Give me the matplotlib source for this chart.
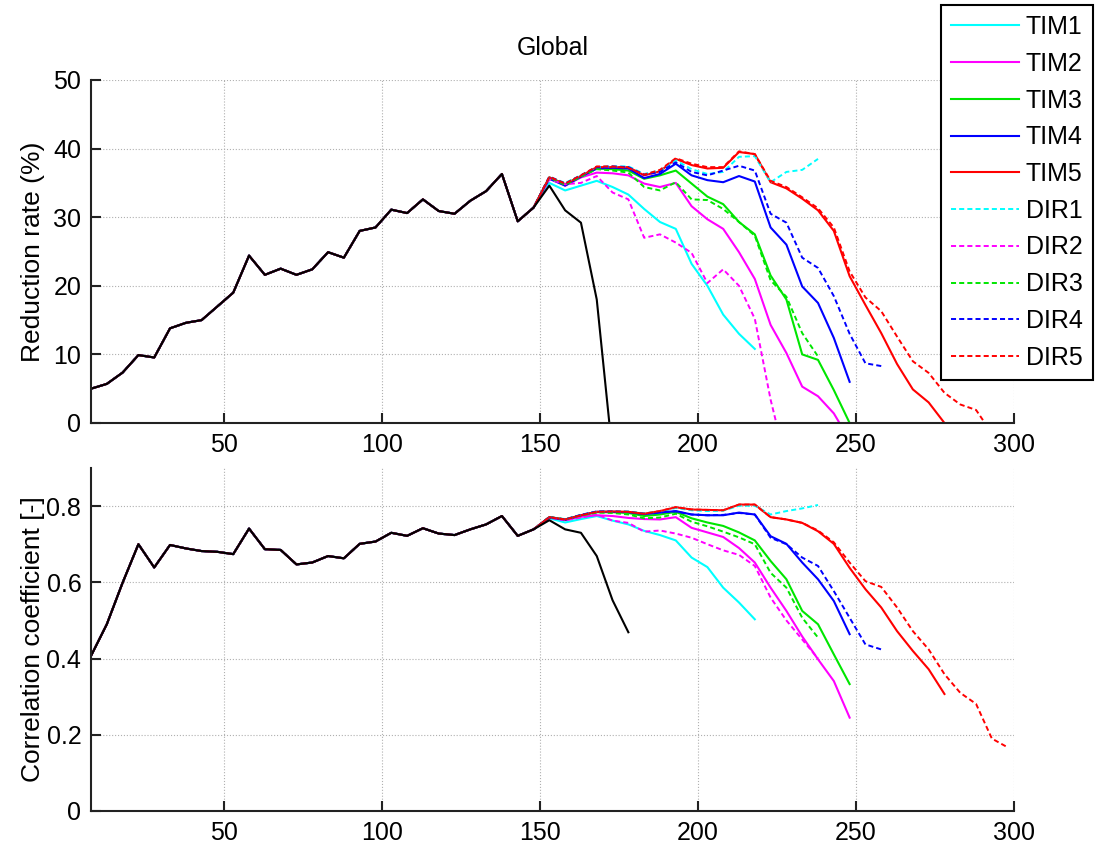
import numpy as np
import matplotlib
matplotlib.use("Agg")
import matplotlib.pyplot as plt

plt.rcParams['font.family'] = ['Liberation Sans', 'DejaVu Sans']

# sample positions (x axis)
x = np.arange(8, 300, 5)

# shared part of all curves (first 29 samples)
red_common = [5.0, 5.7, 7.35, 9.9, 9.55, 13.8, 14.6, 15.0, 17.0, 19.0, 24.4, 21.6, 22.5,
              21.6, 22.4, 24.9, 24.1, 28.0, 28.5, 31.1, 30.6, 32.6, 30.9, 30.5, 32.4,
              33.8, 36.3, 29.4, 31.4]
corr_common = [0.407, 0.490, 0.599, 0.700, 0.639, 0.698, 0.689, 0.682, 0.680, 0.674, 0.741,
               0.687, 0.685, 0.647, 0.652, 0.669, 0.663, 0.701, 0.707, 0.730, 0.722, 0.742,
               0.728, 0.724, 0.739, 0.752, 0.774, 0.722, 0.739]

# reduction rate (%), tails after the shared part
red_black = [34.6, 31.0, 29.2, 18.0, -4.6]
red_tim1 = [35.0, 33.9, 34.6, 35.3, 34.4, 33.3, 31.2, 29.3, 28.3, 23.2, 20.0, 15.8, 13.0, 10.8]
red_tim2 = [35.8, 34.6, 35.8, 36.5, 36.4, 36.1, 34.9, 34.4, 35.0, 31.6, 29.7, 28.3, 24.9, 21.0,
            14.3, 10.2, 5.3, 3.9, 1.4, -2.5]
red_tim3 = [35.8, 34.8, 36.0, 37.1, 37.0, 36.8, 35.6, 36.1, 36.8, 34.9, 33.0, 31.9, 29.3, 27.5,
            21.5, 18.0, 10.0, 9.2, 4.8, 0.0]
red_tim4 = [35.6, 34.6, 35.9, 37.1, 37.2, 37.1, 35.7, 36.3, 37.8, 36.1, 35.4, 35.1, 36.0, 35.2,
            28.5, 26.0, 19.9, 17.5, 12.4, 6.0]
red_tim5 = [35.8, 34.8, 36.0, 37.3, 37.3, 37.3, 36.1, 36.7, 38.5, 37.6, 37.1, 37.2, 39.5, 39.2,
            35.1, 34.2, 32.7, 31.0, 28.0, 21.4, 17.2, 13.1, 8.6, 4.9, 3.0, 0.0]
red_dir1 = [35.9, 35.0, 36.1, 37.3, 37.4, 37.4, 36.3, 36.8, 38.3, 37.0, 36.3, 36.6, 38.8, 38.9,
            35.1, 36.6, 36.9, 38.5]
red_dir2 = [35.5, 34.8, 35.0, 36.0, 33.6, 32.6, 27.0, 27.5, 26.3, 24.8, 20.4, 22.4, 20.0, 15.2,
            3.4, -6.0]
red_dir3 = [35.8, 34.7, 35.9, 37.0, 36.8, 36.5, 34.4, 33.9, 35.1, 32.6, 32.5, 31.2, 29.3, 27.3,
            20.8, 18.4, 13.1, 9.7]
red_dir4 = [35.9, 34.9, 36.1, 37.3, 37.4, 37.3, 36.2, 36.6, 38.0, 36.6, 36.1, 36.8, 37.5, 36.8,
            30.5, 29.2, 24.1, 22.6, 18.5, 13.0, 8.7, 8.3]
red_dir5 = [35.9, 34.9, 36.1, 37.4, 37.4, 37.2, 36.2, 36.9, 38.6, 37.8, 37.3, 37.3, 39.6, 39.2,
            35.3, 34.4, 32.9, 31.3, 28.5, 22.1, 18.3, 16.3, 12.6, 9.0, 7.3, 4.4, 2.7, 1.9, -1.5]

# correlation coefficient, tails after the shared part
corr_black = [0.763, 0.739, 0.730, 0.669, 0.553, 0.469]
corr_tim1 = [0.768, 0.757, 0.766, 0.774, 0.762, 0.752, 0.735, 0.724, 0.710, 0.665, 0.640, 0.586,
             0.547, 0.503]
corr_tim2 = [0.771, 0.763, 0.772, 0.776, 0.774, 0.769, 0.766, 0.765, 0.771, 0.743, 0.731, 0.719,
             0.690, 0.652, 0.586, 0.525, 0.458, 0.398, 0.341, 0.245]
corr_tim3 = [0.771, 0.765, 0.776, 0.784, 0.784, 0.782, 0.774, 0.778, 0.785, 0.768, 0.757, 0.748,
             0.731, 0.710, 0.656, 0.608, 0.525, 0.490, 0.411, 0.333]
corr_tim4 = [0.770, 0.764, 0.776, 0.785, 0.785, 0.784, 0.779, 0.783, 0.787, 0.778, 0.776, 0.776,
             0.783, 0.778, 0.721, 0.701, 0.652, 0.608, 0.551, 0.464]
corr_tim5 = [0.771, 0.765, 0.776, 0.785, 0.786, 0.785, 0.780, 0.787, 0.797, 0.791, 0.790, 0.789,
             0.804, 0.804, 0.771, 0.765, 0.756, 0.734, 0.701, 0.638, 0.582, 0.534, 0.472, 0.420,
             0.372, 0.307]
corr_dir1 = [0.771, 0.766, 0.777, 0.786, 0.786, 0.786, 0.781, 0.786, 0.795, 0.789, 0.787, 0.788,
             0.801, 0.801, 0.778, 0.787, 0.794, 0.803]
corr_dir2 = [0.770, 0.763, 0.770, 0.778, 0.762, 0.756, 0.733, 0.736, 0.728, 0.717, 0.700, 0.684,
             0.672, 0.643, 0.560, 0.500, 0.450, 0.400]
corr_dir3 = [0.771, 0.765, 0.775, 0.783, 0.782, 0.778, 0.768, 0.770, 0.780, 0.759, 0.747, 0.733,
             0.718, 0.700, 0.625, 0.586, 0.507, 0.455]
corr_dir4 = [0.771, 0.765, 0.777, 0.786, 0.786, 0.785, 0.780, 0.784, 0.786, 0.778, 0.776, 0.777,
             0.782, 0.778, 0.717, 0.700, 0.665, 0.643, 0.577, 0.507, 0.437, 0.424]
corr_dir5 = [0.771, 0.765, 0.776, 0.785, 0.786, 0.785, 0.780, 0.787, 0.797, 0.791, 0.790, 0.789,
             0.804, 0.804, 0.771, 0.765, 0.756, 0.736, 0.705, 0.652, 0.603, 0.588, 0.534, 0.472,
             0.424, 0.359, 0.310, 0.281, 0.190, 0.167]

labels = ["TIM1", "TIM2", "TIM3", "TIM4", "TIM5", "DIR1", "DIR2", "DIR3", "DIR4", "DIR5"]
colors = ["#00ffff", "#ff00ff", "#00e600", "#0000ff", "#ff0000"] * 2
styles = ["-"] * 5 + ["--"] * 5
red_tails = [red_tim1, red_tim2, red_tim3, red_tim4, red_tim5,
             red_dir1, red_dir2, red_dir3, red_dir4, red_dir5]
corr_tails = [corr_tim1, corr_tim2, corr_tim3, corr_tim4, corr_tim5,
              corr_dir1, corr_dir2, corr_dir3, corr_dir4, corr_dir5]

fig = plt.figure(figsize=(11.08, 8.5), dpi=100)
ax1 = fig.add_axes([91 / 1108, 1 - 423 / 850, 923 / 1108, 343 / 850])
ax2 = fig.add_axes([91 / 1108, 1 - 811 / 850, 923 / 1108, 343 / 850])

handles = []
for ax, common, tails, black in [(ax1, red_common, red_tails, red_black),
                                 (ax2, corr_common, corr_tails, corr_black)]:
    for lab, col, ls, tail in zip(labels, colors, styles, tails):
        y = np.array(common + tail)
        kw = dict(lw=1.5) if ls == "-" else dict(lw=1.4, dashes=(2.6, 1.6))
        ln, = ax.plot(x[:len(y)], y, color=col, ls=ls, label=lab, **kw)
        if ax is ax1:
            handles.append(ln)
    yb = np.array(common + black)
    ax.plot(x[:len(yb)], yb, color="black", lw=1.5)

    ax.set_xlim(8, 300)
    ax.set_xticks([50, 100, 150, 200, 250, 300])
    ax.grid(True, ls=":", color="#b0b0b0", lw=0.8)
    for s in ["top", "right"]:
        ax.spines[s].set_visible(False)
    for s in ["left", "bottom"]:
        ax.spines[s].set_linewidth(1.5)
        ax.spines[s].set_color("#222222")
    ax.tick_params(direction="in", length=7, width=1.5, labelsize=18, color="#222222", pad=7)

ax1.set_ylim(0, 50)
ax1.set_yticks([0, 10, 20, 30, 40, 50])
ax1.set_ylabel("Reduction rate (%)", fontsize=19)
ax1.set_title("Global", fontsize=18, pad=18)

ax2.set_ylim(0, 0.9)
ax2.set_yticks([0, 0.2, 0.4, 0.6, 0.8])
ax2.set_yticklabels(["0", "0.2", "0.4", "0.6", "0.8"])
ax2.set_ylabel("Correlation coefficient [-]", fontsize=19)

for ax in (ax1, ax2):
    ax.yaxis.set_label_coords(-0.05, 0.5)

leg = fig.legend(handles, labels, loc="upper left", bbox_to_anchor=(941 / 1108, 1 - 5 / 850),
                 fontsize=18, handlelength=2.7, handletextpad=0.3, labelspacing=0.51,
                 borderaxespad=0, borderpad=0.4, fancybox=False, framealpha=1)
leg.get_frame().set_edgecolor("black")
leg.get_frame().set_linewidth(1.5)

fig.savefig("out.png", dpi=100)
